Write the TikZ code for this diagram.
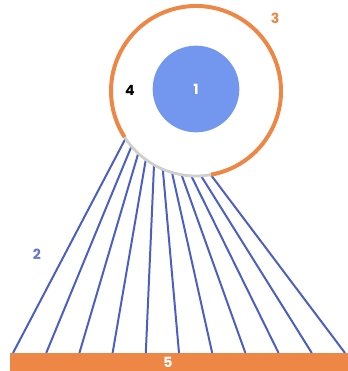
\documentclass[tikz,border=0pt]{standalone}
\usepackage{fontspec}
\setmainfont{Poppins}
\usetikzlibrary{calc}
\definecolor{ringorange}{HTML}{EE8745}
\definecolor{discblue}{HTML}{7397EF}
\definecolor{rayblue}{HTML}{4B5FC2}
\definecolor{seamgray}{HTML}{CFCFCF}
\tikzset{
  ray/.style={rayblue,line width=1.7pt},
  tag/.style={font=\fontsize{12}{14}\selectfont\bfseries}
}
\begin{document}
\begin{tikzpicture}[x=0.03cm,y=0.03cm]
  \useasboundingbox (0,0) rectangle (348,371);
  \coordinate (hub) at (196,280);
  % rays from the seam down to the base
  \foreach \i in {0,...,10}{
    \coordinate (t\i) at ($(hub)+({214+6.6*\i}:85)$);
    \coordinate (b\i) at ({13+33.2*\i},18);
    \draw[ray] (t\i) -- (b\i);
  }
  \fill[white] (hub) circle (85);
  \draw[ringorange,line width=3.4pt] (hub) ++(280:85) arc[start angle=280,end angle=573,radius=85];
  \draw[seamgray,line width=2.4pt] (hub) ++(213:85) arc[start angle=213,end angle=280,radius=85];
  \node[circle,fill=discblue,minimum size=2.6cm,inner sep=0pt,text=white,tag] (core) at (196,282) {1};
  \node[tag] (gap) at (130,281) {4};
  \node[tag,text=ringorange] (shell) at (275,353) {3};
  \node[tag,text=rayblue!85] (raylab) at (37,117) {2};
  \fill[ringorange] (10,0) rectangle (348,18);
  \node[tag,text=white,inner sep=1pt] (base) at (168,9) {5};
\end{tikzpicture}
\end{document}
